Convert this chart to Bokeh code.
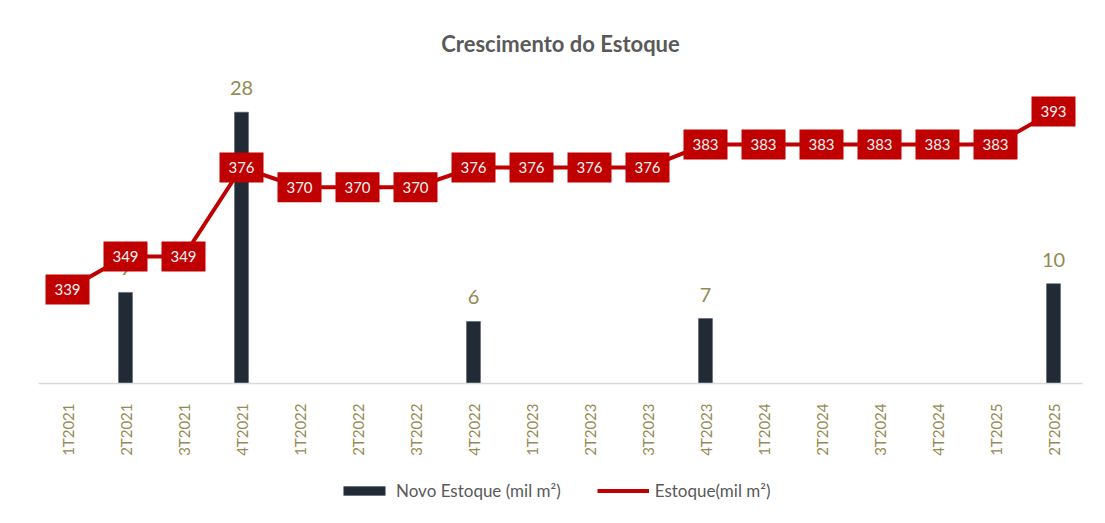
from bokeh.plotting import figure
from bokeh.layouts import column
from bokeh.models import Range1d, FactorRange, Legend, LegendItem, ColumnDataSource
from bokeh.embed import file_html
from bokeh.resources import INLINE
from bokeh.core.properties import value
from math import pi

quarters = ["1T2021", "2T2021", "3T2021", "4T2021", "1T2022", "2T2022", "3T2022", "4T2022",
            "1T2023", "2T2023", "3T2023", "4T2023", "1T2024", "2T2024", "3T2024", "4T2024",
            "1T2025", "2T2025"]
novo_estoque = [0, 9.4, 0, 28, 0, 0, 0, 6.4, 0, 0, 0, 6.7, 0, 0, 0, 0, 0, 10.3]
estoque = [339, 349, 349, 376, 370, 370, 370, 376, 376, 376, 376, 383, 383, 383, 383, 383, 383, 393]
series_names = ["Novo Estoque (mil m²)", "Estoque(mil m²)"]

FONT = "Lato"
OLIVE = "#948A54"
GRAY = "#595959"
RED = "#C00000"
BAR = "#222A35"

src = ColumnDataSource(dict(q=quarters, novo=novo_estoque, est=estoque,
                            est_txt=[str(v) for v in estoque]))
lab_q = [q for q, v in zip(quarters, novo_estoque) if v]
lab_v = [v for v in novo_estoque if v]
lab_src = ColumnDataSource(dict(q=lab_q, v=lab_v, t=[f"{v:.0f}" for v in lab_v]))

p = figure(width=1097, height=460, x_range=FactorRange(*quarters), y_range=Range1d(0, 32.3),
           output_backend="svg", toolbar_location=None,
           min_border_left=38, min_border_right=15, min_border_top=70, min_border_bottom=77,
           title="Crescimento do Estoque")
p.extra_y_ranges = {"right": Range1d(310.5, 405.4)}
p.outline_line_color = None
p.xgrid.visible = False
p.ygrid.visible = False
p.yaxis.visible = False

p.title.align = "center"
p.title.text_font = FONT
p.title.text_font_size = "22px"
p.title.text_font_style = "bold"
p.title.text_color = GRAY
p.title.standoff = 28

p.vbar(x="q", top="novo", width=0.24, source=src, fill_color=BAR, line_color="#44546A",
       line_width=0.5)
p.text(x="q", y="v", text="t", source=lab_src, y_offset=-17, text_align="center",
       text_baseline="bottom", text_font=value(FONT), text_font_size="20px", text_color=OLIVE)

p.line(x="q", y="est", source=src, line_color=RED, line_width=4, y_range_name="right")
p.rect(x="q", y="est", width=44, height=30, width_units="screen", height_units="screen",
       source=src, fill_color=RED, line_color=None, y_range_name="right")
p.text(x="q", y="est", text="est_txt", source=src, text_align="center", text_baseline="middle",
       text_font=value(FONT), text_font_size="15px", text_color="#F2F2F2", y_range_name="right")

ax = p.xaxis[0]
ax.axis_line_color = "#D9D9D9"
ax.axis_line_width = 1.5
ax.major_tick_line_color = None
ax.minor_tick_line_color = None
ax.major_label_orientation = pi / 2
ax.major_label_standoff = 14
ax.major_label_text_font = FONT
ax.major_label_text_font_size = "15px"
ax.major_label_text_color = OLIVE

# legend strip: same series drawn outside its visible range, only the legend shows
lg = figure(width=1097, height=55, x_range=FactorRange(*quarters), y_range=Range1d(1000, 1001),
            output_backend="svg", toolbar_location=None,
            min_border_left=0, min_border_right=0, min_border_top=0, min_border_bottom=0)
lg.axis.visible = False
lg.grid.visible = False
lg.outline_line_color = None
r_bar = lg.vbar(x="q", top="novo", width=0.24, source=src, fill_color=BAR,
                line_color="#44546A", line_width=0.5)
r_line = lg.line(x="q", y="est", source=src, line_color=RED, line_width=4)
legend = Legend(items=[LegendItem(label=series_names[0], renderers=[r_bar]),
                       LegendItem(label=series_names[1], renderers=[r_line])],
                orientation="horizontal", location=(300, 14),
                glyph_width=52, glyph_height=11, spacing=36, label_standoff=6,
                label_text_font=FONT, label_text_font_size="17px", label_text_color=GRAY,
                border_line_color=None, background_fill_alpha=0)
lg.add_layout(legend, "center")

open("out.html", "w").write(file_html(column(p, lg, spacing=0), INLINE))
